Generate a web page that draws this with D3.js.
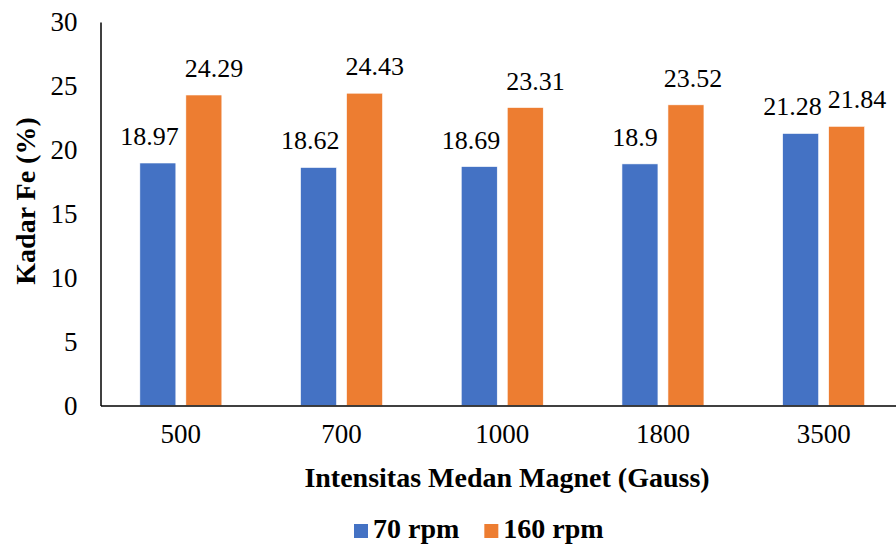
<!DOCTYPE html>
<html><head><meta charset="utf-8">
<script src="https://cdn.jsdelivr.net/npm/d3@7"></script>
<style>body{margin:0;background:#fff}svg{display:block}
svg text{font-family:'Liberation Serif','Times New Roman',serif !important;fill:#000}</style>
</head><body>
<svg id="c" width="896" height="549"></svg>
<script>
const categories = ["500","700","1000","1800","3500"];
const seriesNames = ["70 rpm","160 rpm"];
const rpm70 = [18.97,18.62,18.69,18.9,21.28];
const rpm160 = [24.29,24.43,23.31,23.52,21.84];
const yTicks = [0,5,10,15,20,25,30];
const colors = ["#4472C4","#ED7D31"];

const svg = d3.select("#c");
const m = {l:100.5, r:904, t:22, b:405.5};
const x = d3.scaleBand().domain(categories).range([m.l, m.r]).paddingInner(0).paddingOuter(0);
const y = d3.scaleLinear().domain([0,30]).range([m.b, m.t]);
const barW = 36, step = 46;
const data = categories.map((c,i)=>({c, v:[rpm70[i], rpm160[i]]}));

const g = svg.append("g");
const labels = [];
data.forEach(d=>{
  const cx = x(d.c) + x.bandwidth()/2;
  d.v.forEach((v,j)=>{
    const bx = cx + (j===0 ? -step/2 : step/2) - barW/2;
    g.append("rect").attr("x",bx).attr("y",y(v)).attr("width",barW).attr("height",y(0)-y(v))
      .attr("fill",colors[j]).attr("stroke","#fff").attr("stroke-width",0.6);
    const t = g.append("text").attr("x",bx+barW/2).attr("y",y(v)-18).attr("text-anchor","middle")
      .style("font-size","26px").text(String(v));
    labels.push({t, cx:bx+barW/2, j, cat:d.c});
  });
});
categories.forEach(c=>{
  const ls = labels.filter(l=>l.cat===c);
  const w0 = ls[0].t.node().getComputedTextLength(), w1 = ls[1].t.node().getComputedTextLength();
  const overlap = (ls[0].cx + w0/2 + 6) - (ls[1].cx - w1/2);
  if (overlap > 0) {
    ls[0].t.attr("x", ls[0].cx - overlap/2 + 1);
    ls[1].t.attr("x", ls[1].cx + overlap/2 + 1);
  }
});

const yAxis = d3.axisLeft(y).tickValues(yTicks).tickSize(0).tickPadding(23);
const ya = svg.append("g").attr("transform",`translate(${m.l},0)`).call(yAxis);
ya.select(".domain").attr("stroke","#000").attr("stroke-width",1.5);
ya.selectAll("text").style("font-size","27px");

const xAxis = d3.axisBottom(x).tickSize(0).tickPadding(18);
const xa = svg.append("g").attr("transform",`translate(0,${m.b})`).call(xAxis);
xa.select(".domain").attr("stroke","#000").attr("stroke-width",1.5);
xa.selectAll("text").style("font-size","27px");

svg.append("text").attr("x",507).attr("y",487).attr("text-anchor","middle")
  .style("font-size","28px").style("font-weight","bold").text("Intensitas Medan Magnet (Gauss)");
svg.append("text").attr("transform","translate(35,201) rotate(-90)").attr("text-anchor","middle")
  .style("font-size","28px").style("font-weight","bold").text("Kadar Fe (%)");

const lg = svg.append("g").attr("transform","translate(354,538)");
let lx = 0;
seriesNames.forEach((n,i)=>{
  lg.append("rect").attr("x",lx).attr("y",-14).attr("width",14).attr("height",14).attr("fill",colors[i]);
  const t = lg.append("text").attr("x",lx+19).attr("y",0).style("font-size","28px")
    .style("font-weight","bold").text(n);
  lx += 19 + t.node().getComputedTextLength() + 25;
});
</script>
</body></html>
